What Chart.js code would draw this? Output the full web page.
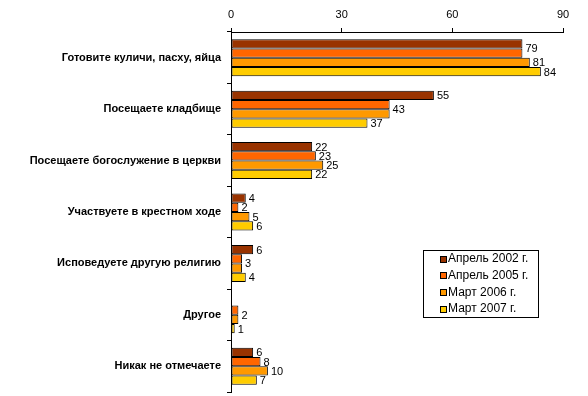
<!DOCTYPE html>
<html><head><meta charset="utf-8">
<script src="https://cdn.jsdelivr.net/npm/chart.js@4/dist/chart.umd.min.js"></script>
<style>html,body{margin:0;padding:0;background:#fff}#wrap{width:588px;height:396px;position:relative}</style>
</head><body><div id="wrap"><canvas id="c" width="588" height="396"></canvas></div>
<script>
const categories = ["Готовите куличи, пасху, яйца","Посещаете кладбище","Посещаете богослужение в церкви","Участвуете в крестном ходе","Исповедуете другую религию","Другое","Никак не отмечаете"];
const seriesNames = ["Апрель 2002 г.","Апрель 2005 г.","Март 2006 г.","Март 2007 г."];
const apr2002 = [79,55,22,4,6,null,6];
const apr2005 = [79,43,23,2,3,2,8];
const mar2006 = [81,43,25,5,3,2,10];
const mar2007 = [84,37,22,6,4,1,7];
const xTicks = [0,30,60,90];
const colors = ["#993300","#FF6600","#FF9900","#FFCC00"];

const FONT = "'Liberation Sans', Arial, sans-serif";
const allSeries = [apr2002, apr2005, mar2006, mar2007];

const labelPlugin = {
  id: 'vlabels',
  afterDatasetsDraw(chart) {
    const ctx = chart.ctx;
    ctx.save();
    ctx.font = "11px " + FONT;
    ctx.fillStyle = "#000";
    ctx.textBaseline = "middle";
    ctx.textAlign = "left";
    const dss = chart.data.datasets;
    dss.forEach((ds, di) => {
      const meta = chart.getDatasetMeta(di);
      meta.data.forEach((bar, i) => {
        const v = ds.data[i];
        if (v === null || v === undefined) return;
        if (di > 0 && dss[di - 1].data[i] === v) return;
        let y = bar.y + 1;
        if (di < dss.length - 1 && dss[di + 1].data[i] === v) {
          const nb = chart.getDatasetMeta(di + 1).data[i];
          y = (bar.y + nb.y) / 2 + 1;
        }
        ctx.fillText(String(v), bar.x + 3, y);
      });
    });
    ctx.restore();
  }
};

const legendPlugin = {
  id: 'boxlegend',
  afterDraw(chart) {
    const ctx = chart.ctx;
    ctx.save();
    const lx = 423, ly = 250, lw = 115, lh = 67;
    ctx.strokeStyle = "#000"; ctx.lineWidth = 1;
    ctx.strokeRect(lx + 0.5, ly + 0.5, lw, lh);
    ctx.font = "12px " + FONT;
    ctx.textBaseline = "middle";
    seriesNames.forEach((n, i) => {
      const y = ly + 8.5 + i * 16.7;
      const mx = lx + 17, my = Math.round(y - 3);
      ctx.fillStyle = colors[i];
      ctx.fillRect(mx + 0.5, my + 0.5, 6, 6);
      ctx.strokeRect(mx + 0.5, my + 0.5, 6, 6);
      ctx.fillStyle = "#000";
      ctx.fillText(n, lx + 25, y + 0.5);
    });
    ctx.restore();
  }
};

new Chart(document.getElementById('c'), {
  type: 'bar',
  data: {
    labels: categories,
    datasets: allSeries.map((d, i) => ({
      label: seriesNames[i],
      data: d,
      backgroundColor: colors[i],
      borderColor: "#000",
      borderWidth: 1,
      borderSkipped: false,
      categoryPercentage: 0.72,
      barPercentage: 1.0
    }))
  },
  options: {
    indexAxis: 'y',
    responsive: false,
    animation: false,
    devicePixelRatio: 1,
    layout: {padding: {top: 0, right: 25, bottom: 4, left: 0}},
    plugins: {legend: {display: false}, tooltip: {enabled: false}},
    scales: {
      x: {
        position: 'top',
        min: 0, max: 90,
        afterBuildTicks(s) { s.ticks = xTicks.map(v => ({value: v})); },
        afterFit(s) { s.height = 32; },
        ticks: {font: {family: FONT, size: 11}, color: "#000", padding: 6, maxRotation: 0},
        grid: {drawOnChartArea: false, drawTicks: true, tickLength: 4, color: "#000"},
        border: {display: true, color: "#000", width: 1}
      },
      y: {
        afterFit(s) { s.width = 231; s.paddingTop = 0; s.paddingBottom = 0; },
        ticks: {font: {family: FONT, size: 11, weight: 'bold'}, color: "#000", padding: 6},
        grid: {drawOnChartArea: false, drawTicks: true, tickLength: 4, color: "#000", offset: true},
        border: {display: true, color: "#000", width: 1}
      }
    }
  },
  plugins: [labelPlugin, legendPlugin]
});
</script></body></html>
